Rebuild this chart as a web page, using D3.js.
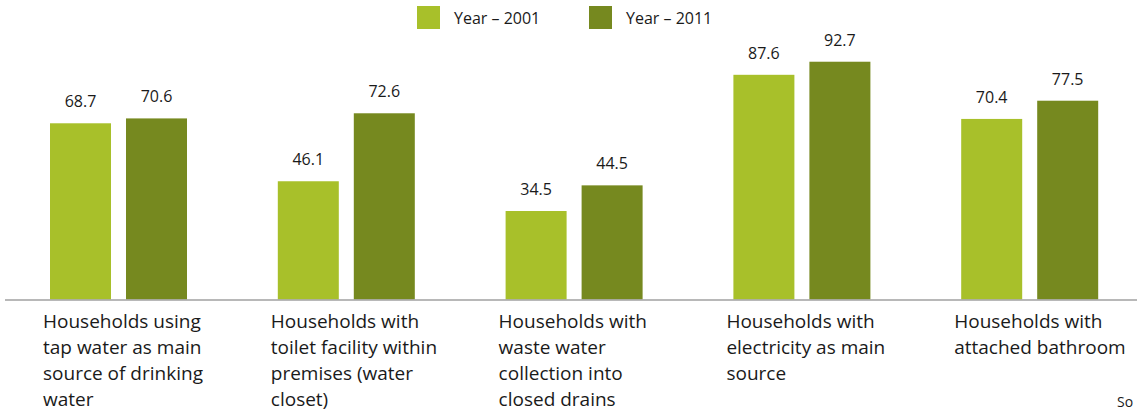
<!DOCTYPE html>
<html>
<head>
<meta charset="utf-8">
<script src="https://cdn.jsdelivr.net/npm/d3@7"></script>
<style>
  body { margin: 0; background: #fff; }
  svg { display: block; font-family: "Open Sans", "Noto Sans", sans-serif; }
</style>
</head>
<body>
<svg id="chart" width="1137" height="411"></svg>
<script>
var categories = [
    ['Households using', 'tap water as main', 'source of drinking', 'water'],
    ['Households with', 'toilet facility within', 'premises (water', 'closet)'],
    ['Households with', 'waste water', 'collection into', 'closed drains'],
    ['Households with', 'electricity as main', 'source'],
    ['Households with', 'attached bathroom']
];
var series = ['Year \u2013 2001', 'Year \u2013 2011'];
var values2001 = [68.7, 46.1, 34.5, 87.6, 70.4];
var values2011 = [70.6, 72.6, 44.5, 92.7, 77.5];
var colors = ['#a8c02a', '#76891f'];

var svg = d3.select('#chart');
var baseline = 299.5;

var x = d3.scaleBand()
    .domain(d3.range(categories.length))
    .range([5, 1144]);
var y = d3.scaleLinear()
    .domain([0, 100])
    .range([baseline, 43]);

var barWidth = 61, barOffset = 45, barGap = 15;

var rows = categories.map(function (c, i) {
    return { i: i, vals: [values2001[i], values2011[i]] };
});

var groups = svg.selectAll('.grp')
    .data(rows)
    .enter().append('g')
    .attr('class', 'grp')
    .attr('transform', function (d) { return 'translate(' + x(d.i) + ',0)'; });

groups.selectAll('rect')
    .data(function (d) { return d.vals; })
    .enter().append('rect')
    .attr('x', function (d, j) { return barOffset + j * (barWidth + barGap); })
    .attr('y', function (d) { return y(d); })
    .attr('width', barWidth)
    .attr('height', function (d) { return baseline - y(d); })
    .attr('fill', function (d, j) { return colors[j]; });

groups.selectAll('.val')
    .data(function (d) { return d.vals; })
    .enter().append('text')
    .attr('class', 'val')
    .attr('x', function (d, j) { return barOffset + j * (barWidth + barGap) + barWidth / 2; })
    .attr('y', function (d) { return y(d) - 16; })
    .attr('text-anchor', 'middle')
    .attr('font-size', 16)
    .attr('fill', '#1a1a1a')
    .text(function (d) { return d.toFixed(1); });

// category labels
groups.append('text')
    .attr('font-size', 19)
    .attr('fill', '#1a1a1a')
    .selectAll('tspan')
    .data(function (d) { return categories[d.i]; })
    .enter().append('tspan')
    .attr('x', barOffset - 7)
    .attr('y', function (d, k) { return 328 + k * 26; })
    .text(function (d) { return d; });

// axis line
svg.append('line')
    .attr('x1', 5).attr('x2', 1137)
    .attr('y1', baseline + 0.5).attr('y2', baseline + 0.5)
    .attr('stroke', '#a0a0a0')
    .attr('stroke-width', 1.5);

// legend
var legendX = [417, 589];
var legend = svg.selectAll('.legend')
    .data(series)
    .enter().append('g')
    .attr('class', 'legend')
    .attr('transform', function (d, i) { return 'translate(' + legendX[i] + ',6)'; });
legend.append('rect')
    .attr('width', 23).attr('height', 23)
    .attr('fill', function (d, i) { return colors[i]; });
legend.append('text')
    .attr('x', 37).attr('y', 18)
    .attr('font-size', 16)
    .attr('fill', '#1a1a1a')
    .text(function (d) { return d; });

svg.append('text')
    .attr('x', 1117).attr('y', 407)
    .attr('font-size', 14)
    .attr('fill', '#1a1a1a')
    .text('So');
</script>
</body>
</html>
